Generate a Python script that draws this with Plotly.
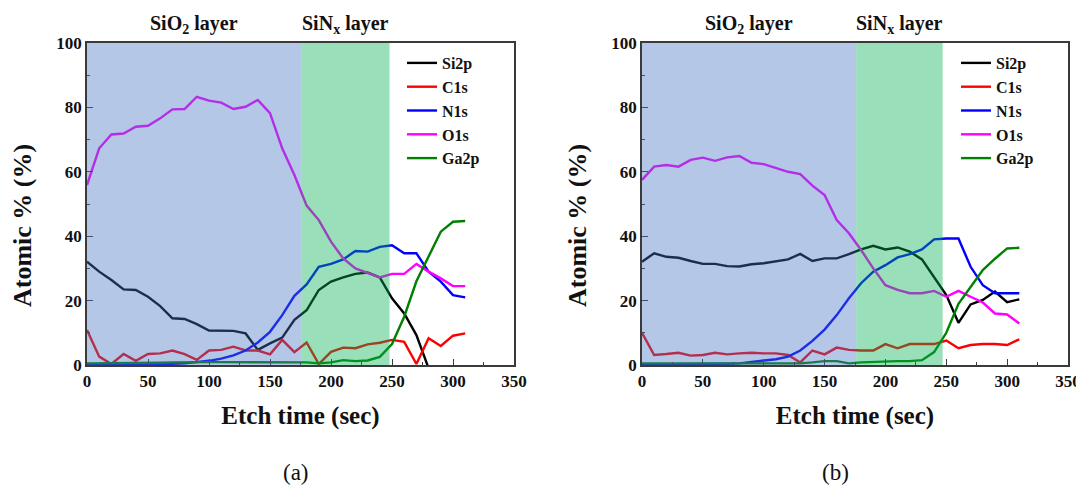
import plotly.graph_objects as go

# ---------------- data ----------------
t = [0, 10, 20, 30, 40, 50, 60, 70, 80, 90, 100, 110, 120, 130, 140, 150,
     160, 170, 180, 190, 200, 210, 220, 230, 240, 250, 260, 270, 280, 290, 300, 310]

# panel (a)
a_si2p = [32.1, 29.0, 26.4, 23.5, 23.3, 21.2, 18.3, 14.5, 14.3, 12.7, 10.7, 10.6,
          10.6, 9.8, 4.7, 6.7, 8.5, 14.0, 17.0, 23.3, 25.9, 27.2, 28.3, 28.7, 27.2,
          20.7, 16.0, 9.3, -1.0]
a_c1s = [10.9, 2.6, 0.3, 3.4, 1.3, 3.4, 3.6, 4.5, 3.4, 1.6, 4.5, 4.7, 5.7, 4.5, 4.5,
         3.3, 7.8, 4.0, 7.0, 0.3, 4.1, 5.4, 5.2, 6.4, 6.9, 7.8, 7.2, 0.3, 8.3, 5.9, 9.1, 9.8]
a_n1s = [0.2, 0.2, 0.2, 0.2, 0.3, 0.3, 0.3, 0.4, 0.5, 0.8, 1.3, 2.0, 3.0, 4.5, 7.0,
         10.3, 15.5, 21.5, 25.0, 30.5, 31.4, 32.8, 35.4, 35.2, 36.7, 37.2, 34.7, 34.7,
         29.0, 25.9, 21.7, 21.0]
a_o1s = [55.9, 67.3, 71.6, 71.9, 74.0, 74.3, 76.6, 79.4, 79.5, 83.3, 82.1, 81.5, 79.5,
         80.2, 82.3, 78.2, 67.3, 59.0, 49.5, 45.0, 38.3, 33.1, 30.0, 28.5, 27.2, 28.3,
         28.3, 31.4, 29.0, 26.9, 24.5, 24.5]
a_ga2p = [0.5, 0.5, 0.6, 0.6, 0.6, 0.7, 0.7, 0.8, 0.9, 0.9, 0.9, 0.9, 0.9, 0.9, 0.9,
          0.9, 0.9, 0.8, 0.8, 0.5, 0.8, 1.5, 1.2, 1.4, 2.5, 6.5, 15.0, 26.0, 33.6, 41.4,
          44.5, 44.7]

# panel (b)
b_si2p = [32.1, 34.7, 33.6, 33.3, 32.3, 31.4, 31.4, 30.7, 30.6, 31.3, 31.6, 32.1, 32.8,
          34.5, 32.3, 33.1, 33.1, 34.4, 35.9, 37.0, 35.9, 36.5, 35.2, 32.8, 27.4, 21.7,
          13.1, 18.8, 20.2, 22.8, 19.5, 20.4]
b_c1s = [10.0, 3.1, 3.4, 3.8, 2.9, 3.1, 3.8, 3.3, 3.6, 3.8, 3.6, 3.6, 3.1, 0.8, 4.5,
         3.3, 5.4, 4.7, 4.5, 4.5, 6.5, 5.2, 6.5, 6.5, 6.5, 7.6, 5.2, 6.2, 6.5, 6.5, 6.2, 8.0]
b_n1s = [0.2, 0.2, 0.2, 0.2, 0.2, 0.3, 0.3, 0.4, 0.5, 1.0, 1.3, 1.8, 2.6, 4.5, 7.5,
         11.0, 15.5, 20.7, 25.4, 29.0, 31.0, 33.4, 34.4, 35.9, 39.0, 39.3, 39.3, 30.5,
         24.8, 22.3, 22.3, 22.3]
b_o1s = [57.5, 61.6, 62.1, 61.6, 63.7, 64.4, 63.4, 64.5, 64.9, 62.8, 62.4, 61.1, 60.0,
         59.3, 55.7, 52.8, 45.0, 40.9, 35.7, 30.0, 24.8, 23.3, 22.3, 22.3, 23.0, 21.2,
         23.0, 21.2, 19.4, 16.0, 15.7, 12.9]
b_ga2p = [0.5, 0.5, 0.5, 0.5, 0.5, 0.5, 0.5, 0.5, 0.5, 0.5, 0.5, 0.5, 0.5, 0.5, 0.8,
          1.2, 1.2, 0.5, 0.8, 1.0, 1.0, 1.2, 1.2, 1.5, 4.0, 10.0, 19.0, 24.3, 29.5, 33.0,
          36.2, 36.4]

series_names = ["Si2p", "C1s", "N1s", "O1s", "Ga2p"]
series_colors = ["#000000", "#ff0000", "#0000ff", "#ff00ff", "#008000"]

# layer boundaries (sec)
a_layers = [0, 176, 248]
b_layers = [0, 176, 247]
layer_labels = ["SiO<sub>2</sub> layer", "SiN<sub>x</sub> layer"]
panel_labels = ["(a)", "(b)"]

x_ticks = [0, 50, 100, 150, 200, 250, 300, 350]
y_ticks = [0, 20, 40, 60, 80, 100]

# ---------------- figure ----------------
W, H = 1084, 493
OFF = 8  # page body margin of the html page
SERIF = "Liberation Serif"

fig = go.Figure()

panels = [
    ("x", "y", "legend", [a_si2p, a_c1s, a_n1s, a_o1s, a_ga2p], a_layers),
    ("x2", "y2", "legend2", [b_si2p, b_c1s, b_n1s, b_o1s, b_ga2p], b_layers),
]

for xa, ya, lg, data, layers in panels:
    for name, color, vals in zip(series_names, series_colors, data):
        fig.add_trace(go.Scatter(
            x=t[:len(vals)], y=vals, mode="lines", name=name,
            line=dict(color=color, width=2.4),
            xaxis=xa, yaxis=ya, legend=lg,
        ))

def px_x(p):
    return (p - OFF) / W

def px_y(p):
    return 1 - (p - OFF) / H

x_domains = [[px_x(87), px_x(514)], [px_x(642), px_x(1068)]]
y_domain = [px_y(365), px_y(43)]
ytitle_x = [22, 577]
panel_label_x = [296, 835]

axis_common = dict(
    showline=True, linecolor="#3a3a3a", linewidth=1.5, mirror=True,
    ticks="inside", ticklen=6, tickwidth=1.3, tickcolor="#3a3a3a",
    showgrid=False, zeroline=False, automargin=False,
    tickfont=dict(family=SERIF, size=17, color="#111111", weight="bold"),
)

shapes = []
annotations = []
for i, (xa, ya, lg, data, layers) in enumerate(panels):
    xkey = "xaxis" if i == 0 else "xaxis2"
    ykey = "yaxis" if i == 0 else "yaxis2"
    fig.update_layout(**{
        xkey: dict(axis_common, domain=x_domains[i], range=[0, 350],
                   tickvals=x_ticks, anchor=ya,
                   minor=dict(dtick=25, ticks="inside", ticklen=3.5,
                              tickwidth=1.2, tickcolor="#3a3a3a"),
                   title=dict(text="Etch time (sec)", standoff=16,
                              font=dict(family=SERIF, size=25, color="#111111",
                                        weight="bold"))),
        ykey: dict(axis_common, domain=y_domain, range=[0, 100],
                   tickvals=y_ticks, anchor=xa,
                   minor=dict(dtick=10, ticks="inside", ticklen=3.5,
                              tickwidth=1.2, tickcolor="#3a3a3a")),
    })
    # shaded layer regions (semi-transparent overlay above the lines)
    shapes.append(dict(type="rect", xref=xa, yref=f"{ya} domain",
                       x0=layers[0], x1=layers[1], y0=0, y1=1,
                       fillcolor="#4472c4", opacity=0.4, line=dict(width=0),
                       layer="above"))
    shapes.append(dict(type="rect", xref=xa, yref=f"{ya} domain",
                       x0=layers[1], x1=layers[2], y0=0, y1=1,
                       fillcolor="#00b050", opacity=0.4, line=dict(width=0),
                       layer="above"))
    # layer labels above the regions
    for k in range(2):
        annotations.append(dict(
            text=layer_labels[k], xref=xa, yref=f"{ya} domain",
            x=(layers[k] + layers[k + 1]) / 2, y=1.0, yshift=18,
            showarrow=False, xanchor="center", yanchor="middle",
            font=dict(family=SERIF, size=20, color="#111111", weight="bold")))
    # y axis title
    annotations.append(dict(
        text="Atomic % (%)", xref="paper", yref="paper",
        x=px_x(ytitle_x[i]), y=px_y(226), textangle=-90,
        showarrow=False, xanchor="center", yanchor="middle",
        font=dict(family=SERIF, size=26, color="#111111", weight="bold")))
    # panel label
    annotations.append(dict(
        text=panel_labels[i], xref="paper", yref="paper",
        x=px_x(panel_label_x[i]), y=px_y(472),
        showarrow=False, xanchor="center", yanchor="middle",
        font=dict(family=SERIF, size=23, color="#111111")))

legend_common = dict(
    xanchor="left", yanchor="top", bgcolor="rgba(0,0,0,0)", borderwidth=0,
    font=dict(family=SERIF, size=16, color="#111111", weight="bold"),
    tracegroupgap=0, itemwidth=30,
)

fig.update_layout(
    width=W, height=H,
    margin=dict(l=0, r=0, t=0, b=0),
    paper_bgcolor="white", plot_bgcolor="white",
    showlegend=True,
    legend=dict(legend_common, x=px_x(402), y=px_y(46)),
    legend2=dict(legend_common, x=px_x(956), y=px_y(46)),
    shapes=shapes, annotations=annotations,
)

fig.write_html("out.html")
